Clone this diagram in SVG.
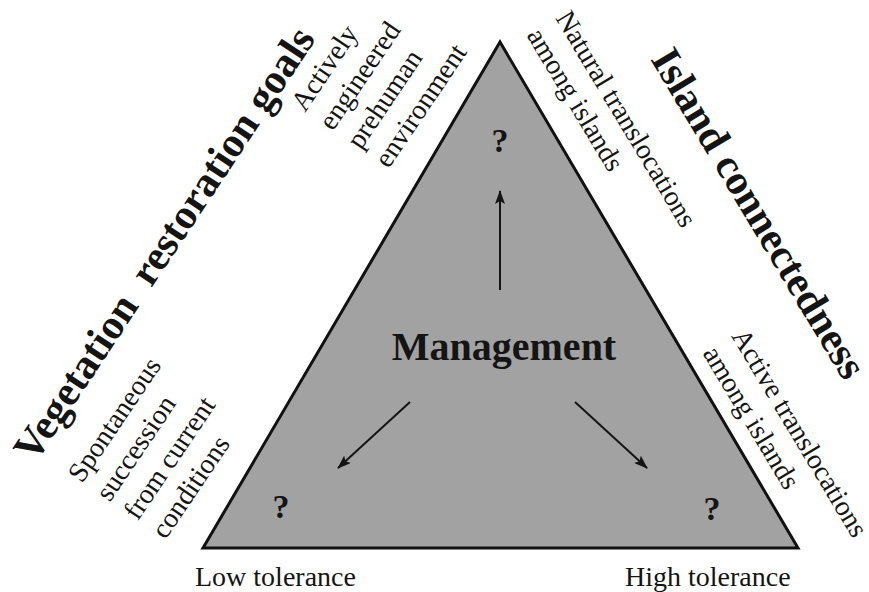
<svg xmlns="http://www.w3.org/2000/svg" width="869" height="592" viewBox="0 0 869 592">
<style>
text{font-family:"Liberation Serif","Times New Roman",serif;fill:#141414}
.b{font-weight:bold}
.t{font-size:28px}
.h{font-size:42px;font-weight:bold;white-space:pre}
.q{font-size:34px;font-weight:bold;text-anchor:middle}
.c{stroke:#141414;stroke-width:2;fill:none}
</style>
<defs>
<marker id="ah" viewBox="0 0 14 10" refX="13" refY="5" markerWidth="14" markerHeight="10" markerUnits="userSpaceOnUse" orient="auto">
<path d="M0,0 L14,5 L0,10 L3,5 Z" fill="#141414"/>
</marker>
</defs>
<rect width="869" height="592" fill="#fff"/>
<g id="triangle">
<polygon points="500,42 798,548 203,548" fill="#a2a2a2" stroke="#111" stroke-width="3" stroke-linejoin="miter"/>
</g>
<g id="management"><text class="b" x="504" y="360" font-size="40" text-anchor="middle">Management</text></g>
<g id="q-top"><text class="q" x="500" y="152">?</text></g>
<g id="q-left"><text class="q" x="281" y="518">?</text></g>
<g id="q-right"><text class="q" x="712" y="520">?</text></g>
<g id="connectors">
<line class="c" x1="500" y1="290" x2="500" y2="191" marker-end="url(#ah)"/>
<line class="c" x1="410" y1="402" x2="338" y2="468" marker-end="url(#ah)"/>
<line class="c" x1="575" y1="402" x2="647" y2="468" marker-end="url(#ah)"/>
</g>
<g id="veg-title"><text class="h" transform="translate(35,464) rotate(-56.5)">Vegetation  restoration goals</text></g>
<g id="island-title"><text class="h" transform="translate(650,59) rotate(59)">Island connectedness</text></g>
<g id="actively"><text class="t" transform="translate(305,113) rotate(-56)"><tspan x="0" y="0">Actively</tspan><tspan x="0" dy="33.6">engineered</tspan><tspan x="0" dy="33.6">prehuman</tspan><tspan x="0" dy="33.6">environment</tspan></text></g>
<g id="spontaneous"><text class="t" transform="translate(82,484) rotate(-56)"><tspan x="0" y="0">Spontaneous</tspan><tspan x="0" dy="33.6">succession</tspan><tspan x="0" dy="33.6">from current</tspan><tspan x="0" dy="33.6">conditions</tspan></text></g>
<g id="natural"><text class="t" transform="translate(555,18) rotate(59)"><tspan x="0" y="0">Natural translocations</tspan><tspan x="0" dy="33.6">among islands</tspan></text></g>
<g id="active"><text class="t" transform="translate(731,336) rotate(59)"><tspan x="0" y="0">Active translocations</tspan><tspan x="0" dy="33.6">among islands</tspan></text></g>
<g id="low"><text class="t" x="195" y="586">Low tolerance</text></g>
<g id="high"><text class="t" x="625" y="586">High tolerance</text></g>
</svg>
